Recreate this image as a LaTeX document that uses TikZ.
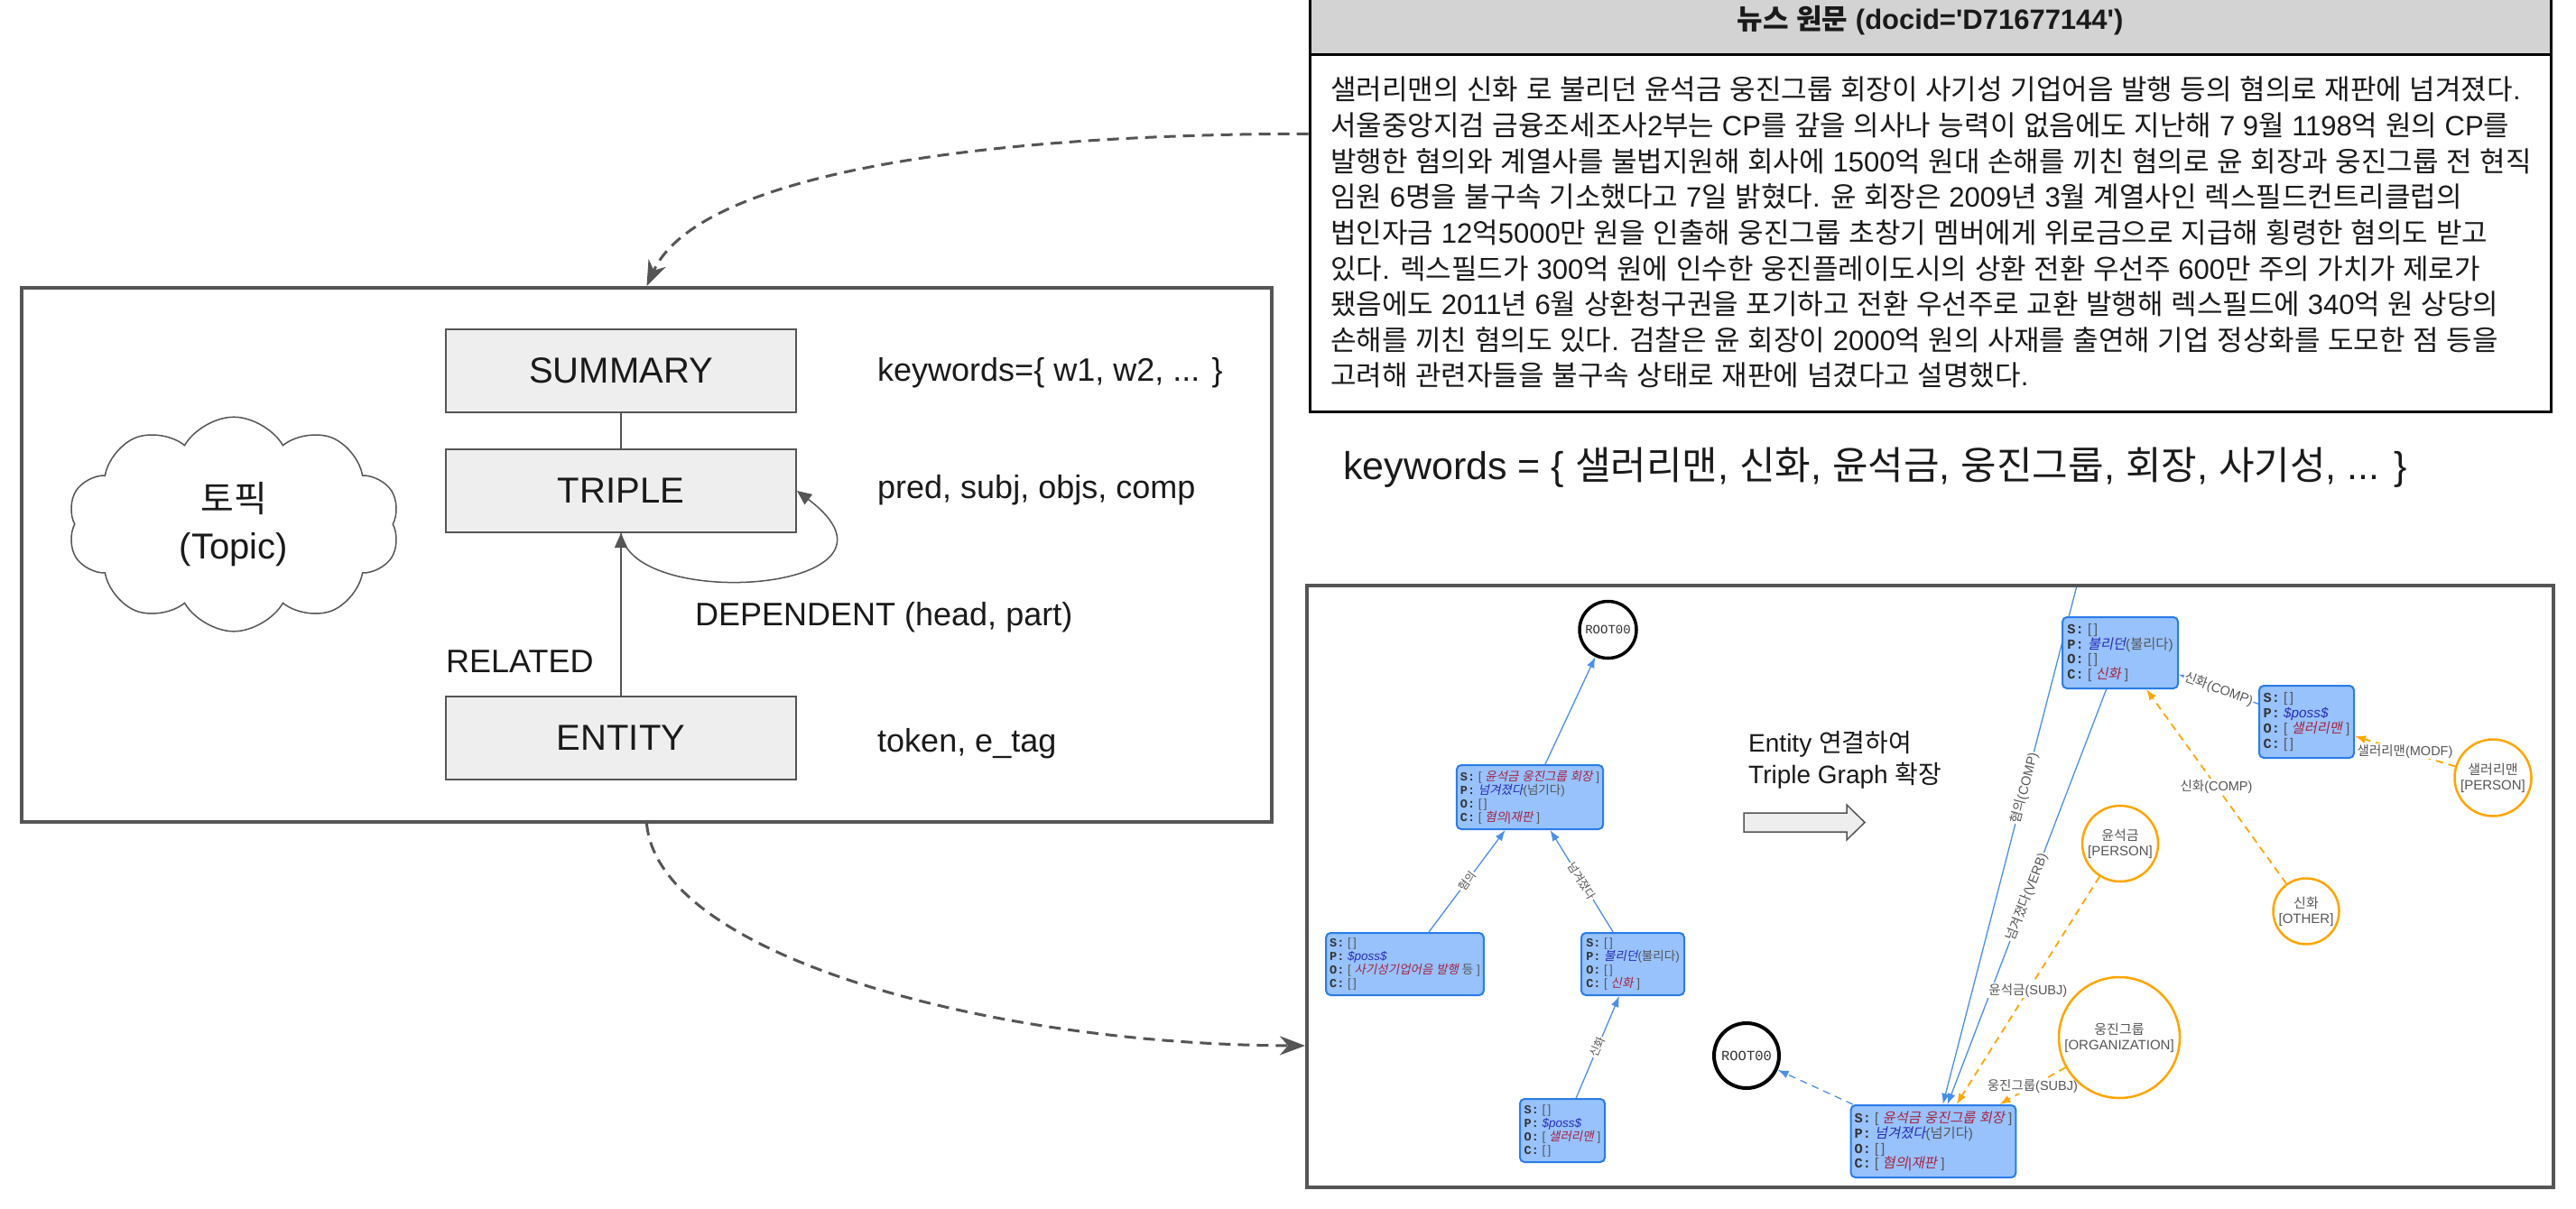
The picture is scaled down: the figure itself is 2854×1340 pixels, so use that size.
\documentclass[tikz,border=0pt]{standalone}
\usepackage{fontspec}
\setmainfont{Liberation Sans}
\setmonofont{Liberation Mono}
\newfontfamily\krfont{Noto Sans CJK KR}[AutoFakeSlant=0.2]
\usetikzlibrary{arrows.meta,shapes.symbols,calc}
\pgfdeclarelayer{back}
\pgfdeclarelayer{edges}
\pgfsetlayers{back,edges,main}
\XeTeXinterchartokenstate=1
\newXeTeXintercharclass\KRclass
\newcount\krcnt
\krcnt="AC00
\loop
  \XeTeXcharclass\krcnt=\KRclass
  \ifnum\krcnt<"D7A3
  \advance\krcnt by 1
\repeat
\XeTeXinterchartoks 0 \KRclass = {\krfont}
\XeTeXinterchartoks 4095 \KRclass = {\krfont}
\XeTeXinterchartoks \KRclass 0 = {\rmfamily}
\XeTeXinterchartoks \KRclass 4095 = {\rmfamily}
\definecolor{visfill}{HTML}{97C2FC}
\definecolor{visborder}{HTML}{2B7CE9}
\definecolor{vedge}{HTML}{4A8FE7}
\definecolor{vorange}{HTML}{FFA500}
\definecolor{vred}{HTML}{A8233F}
\definecolor{vblue}{HTML}{2A2AB8}
\definecolor{vgray}{HTML}{555555}
\definecolor{vlab}{HTML}{333333}
\definecolor{lightfill}{HTML}{EEEEEE}
\definecolor{headfill}{HTML}{D3D3D3}
\definecolor{linegray}{HTML}{555555}
\definecolor{txt}{HTML}{1A1A1A}
\newcommand\ml[1]{{\ttfamily\bfseries\color{vlab}#1:}~}
\newcommand\rd[1]{{\itshape\color{vred}#1}}
\newcommand\bl[1]{{\itshape\color{vblue}#1}}
\begin{document}
\begin{tikzpicture}[x=1pt,y=-1pt,
  ebox/.style={draw=linegray, fill=lightfill, line width=2pt, minimum width=388pt, minimum height=92pt, font=\fontsize{40}{48}\selectfont, text=txt},
  side/.style={anchor=west, font=\fontsize{36}{43}\selectfont, inner sep=0pt, text=txt},
  gline/.style={draw=linegray, line width=1.5pt},
  garrow/.style={gline, -{Triangle[length=16pt,width=14pt]}},
  dconn/.style={draw=linegray, line width=3pt, dash pattern=on 13pt off 8pt, -{Stealth[length=28pt,width=21pt,inset=9pt]}},
  vnodeL/.style={draw=visborder, fill=visfill, line width=2pt, rounded corners=5pt, align=left, inner xsep=4pt, inner ysep=2pt, text=vgray, font=\fontsize{13.5}{15}\selectfont},
  vnodeR/.style={vnodeL, font=\fontsize{15.3}{16.8}\selectfont},
  bedge/.style={draw=vedge, line width=1.3pt, -{Latex[length=12pt,width=9pt]}},
  bdash/.style={bedge, dash pattern=on 8pt off 6pt},
  oedge/.style={draw=vorange, line width=1.8pt, dash pattern=on 8pt off 6pt, -{Latex[length=12pt,width=9pt]}},
  elabL/.style={font=\fontsize{12.5}{12.5}\selectfont, text=vgray, fill=white, inner sep=1pt},
  elabR/.style={elabL, font=\fontsize{14.5}{14.5}\selectfont},
  rootn/.style={circle, draw=black, line width=3.5pt, fill=white, text=vlab, inner sep=0pt, font=\ttfamily\fontsize{14}{14}\selectfont},
  entn/.style={circle, draw=vorange, line width=2.5pt, fill=white, text=vgray, align=center, inner sep=0pt, font=\fontsize{15}{17}\selectfont},
  newsline/.style={anchor=base west, inner sep=0pt, font=\fontsize{31}{36}\selectfont, text=txt},
]
\useasboundingbox (0,0) rectangle (2854,1340);
\begin{pgfonlayer}{back}
\fill[white] (0,0) rectangle (2854,1340);
\end{pgfonlayer}

% ---------- left schema box ----------
\node[draw=linegray, line width=4pt, minimum width=1385pt, minimum height=592pt] (leftbox) at (716.5,615) {};
\node[ebox] (summary) at (688,411) {SUMMARY};
\node[ebox] (triple) at (688,544) {TRIPLE};
\node[ebox] (entity) at (688,817.5) {ENTITY};
\draw[gline] (summary.south) -- (triple.north);
\draw[garrow] (entity.north) -- (triple.south);
\draw[garrow] (triple.south) .. controls (700,680) and (1030,655) .. (triple.east);
\node[side] (kwdesc) at (972,413) {keywords=\{ w1, w2, ... \}};
\node[side] (tripdesc) at (972,543) {pred, subj, objs, comp};
\node[side] (entdesc) at (972,824) {token, e\_tag};
\node[side] (deplbl) at (770,684) {DEPENDENT (head, part)};
\node[side] (rellbl) at (494,733) {RELATED};
\node[cloud, cloud ignores aspect, draw=linegray, line width=1.5pt, cloud puffs=10, cloud puff arc=120, minimum width=368pt, minimum height=210pt, inner xsep=2pt, inner ysep=30pt, align=center, text=txt, font=\fontsize{40}{52}\selectfont] (topic) at (259,581) {토픽\\(Topic)};

% ---------- news box ----------
\node[draw=black, line width=3pt, fill=white, minimum width=1375pt, minimum height=395pt] (newsbody) at (2138.5,258.5) {};
\node[draw=black, line width=3pt, fill=headfill, minimum width=1375pt, minimum height=76pt, font=\bfseries\fontsize{31}{36}\selectfont, text=txt] (newshead) at (2138.5,23) {뉴스 원문 (docid=\textquotesingle D71677144\textquotesingle)};
\node[newsline] (nl1) at (1474,111) {샐러리맨의 신화 로 불리던 윤석금 웅진그룹 회장이 사기성 기업어음 발행 등의 혐의로 재판에 넘겨졌다.};
\node[newsline] (nl2) at (1474,150.6) {서울중앙지검 금융조세조사2부는 CP를 갚을 의사나 능력이 없음에도 지난해 7 9월 1198억 원의 CP를};
\node[newsline] (nl3) at (1474,190.2) {발행한 혐의와 계열사를 불법지원해 회사에 1500억 원대 손해를 끼친 혐의로 윤 회장과 웅진그룹 전 현직};
\node[newsline] (nl4) at (1474,229.8) {임원 6명을 불구속 기소했다고 7일 밝혔다. 윤 회장은 2009년 3월 계열사인 렉스필드컨트리클럽의};
\node[newsline] (nl5) at (1474,269.4) {법인자금 12억5000만 원을 인출해 웅진그룹 초창기 멤버에게 위로금으로 지급해 횡령한 혐의도 받고};
\node[newsline] (nl6) at (1474,309) {있다. 렉스필드가 300억 원에 인수한 웅진플레이도시의 상환 전환 우선주 600만 주의 가치가 제로가};
\node[newsline] (nl7) at (1474,348.6) {됐음에도 2011년 6월 상환청구권을 포기하고 전환 우선주로 교환 발행해 렉스필드에 340억 원 상당의};
\node[newsline] (nl8) at (1474,388.2) {손해를 끼친 혐의도 있다. 검찰은 윤 회장이 2000억 원의 사재를 출연해 기업 정상화를 도모한 점 등을};
\node[newsline] (nl9) at (1474,427.8) {고려해 관련자들을 불구속 상태로 재판에 넘겼다고 설명했다.};
\node[anchor=base west, inner sep=0pt, font=\fontsize{43}{50}\selectfont, text=txt] (kw) at (1488,531) {keywords = \{ 샐러리맨, 신화, 윤석금, 웅진그룹, 회장, 사기성, ... \}};

% ---------- graph box ----------
\node[draw=linegray, line width=4pt, minimum width=1381pt, minimum height=667pt] (graphbox) at (2138.5,982.5) {};
\coordinate (offtop) at (2301,649);

% left graph
\node[rootn, minimum size=63pt] (root1) at (1781.5,698) {ROOT00};
\node[vnodeL, minimum width=160pt, minimum height=71pt] (nA) at (1695,883.5) {\ml{S}[~\rd{윤석금 웅진그룹 회장}~]\\\ml{P}\bl{넘겨졌다}(넘기다)\\\ml{O}[\,]\\\ml{C}[~\rd{혐의|재판}~]};
\node[vnodeL, minimum width=171pt, minimum height=69pt] (nB) at (1556.5,1068.5) {\ml{S}[\,]\\\ml{P}\bl{\$poss\$}\\\ml{O}[~\rd{사기성기업어음 발행}~등~]\\\ml{C}[\,]};
\node[vnodeL, minimum width=114pt, minimum height=69pt] (nC) at (1809,1068.5) {\ml{S}[\,]\\\ml{P}\bl{불리던}(불리다)\\\ml{O}[\,]\\\ml{C}[~\rd{신화}~]};
\node[vnodeL, minimum width=94pt, minimum height=70pt] (nD) at (1731,1253) {\ml{S}[\,]\\\ml{P}\bl{\$poss\$}\\\ml{O}[~\rd{샐러리맨}~]\\\ml{C}[\,]};

% arrow + caption
\node[anchor=base west, inner sep=0pt, font=\fontsize{28}{33}\selectfont, text=txt] (ent1) at (1937,833) {Entity 연결하여};
\node[anchor=base west, inner sep=0pt, font=\fontsize{28}{33}\selectfont, text=txt] (ent2) at (1937,868) {Triple Graph 확장};
\draw[fill=lightfill, draw=linegray, line width=1.5pt] (1932,901) -- (2046,901) -- (2046,892) -- (2066,911.5) -- (2046,931) -- (2046,922) -- (1932,922) -- cycle;

% right graph
\node[rootn, line width=4pt, minimum size=72pt, font=\ttfamily\fontsize{15.5}{15.5}\selectfont] (root2) at (1935,1170) {ROOT00};
\node[vnodeR, minimum width=180pt, minimum height=80pt] (nE) at (2142,1265) {\ml{S}[~\rd{윤석금 웅진그룹 회장}~]\\\ml{P}\bl{넘겨졌다}(넘기다)\\\ml{O}[\,]\\\ml{C}[~\rd{혐의|재판}~]};
\node[vnodeR, minimum width=128pt, minimum height=79pt] (nF) at (2349,723.5) {\ml{S}[\,]\\\ml{P}\bl{불리던}(불리다)\\\ml{O}[\,]\\\ml{C}[~\rd{신화}~]};
\node[vnodeR, minimum width=105pt, minimum height=80pt] (nG) at (2555.5,800) {\ml{S}[\,]\\\ml{P}\bl{\$poss\$}\\\ml{O}[~\rd{샐러리맨}~]\\\ml{C}[\,]};
\node[entn, minimum size=85pt] (esal) at (2762,862) {샐러리맨\\{[PERSON]}};
\node[entn, minimum size=84pt] (eyun) at (2349,935) {윤석금\\{[PERSON]}};
\node[entn, minimum size=73pt] (eshin) at (2555,1010) {신화\\{[OTHER]}};
\node[entn, minimum size=134pt] (eung) at (2348,1150) {웅진그룹\\{[ORGANIZATION]}};

\begin{pgfonlayer}{edges}
\draw[bedge] (nA) -- (root1);
\draw[bedge] (nB) -- node[elabL, sloped] {혐의} (nA);
\draw[bedge] (nC) -- node[elabL, sloped] {넘겨졌다} (nA);
\draw[bedge] (nD) -- node[elabL, sloped] {신화} (nC);
\draw[bdash] (nE) -- (root2);
\draw[bedge] (offtop) -- node[elabR, sloped, pos=0.39] {혐의(COMP)} (nE);
\draw[bedge] (nF) -- node[elabR, sloped] {넘겨졌다(VERB)} (nE);
\draw[bedge] (nG) -- node[elabR, sloped] {신화(COMP)} (nF);
\draw[oedge] (esal) -- node[elabR] {샐러리맨(MODF)} (nG);
\draw[oedge] (eshin) -- node[elabR] {신화(COMP)} (nF);
\draw[oedge] (eyun) -- node[elabR] {윤석금(SUBJ)} (nE);
\draw[oedge] (eung) -- node[elabR] {웅진그룹(SUBJ)} (nE);
\end{pgfonlayer}

% ---------- dashed connectors ----------
\draw[dconn] ($(newsbody.north west)!0.223!(newsbody.south west)$) .. controls (1050,149) and (770,200) .. (leftbox.north);
\draw[dconn] (leftbox.south) .. controls (730,1060) and (1100,1158) .. ($(graphbox.north west)!0.763!(graphbox.south west)$);
\end{tikzpicture}
\end{document}
